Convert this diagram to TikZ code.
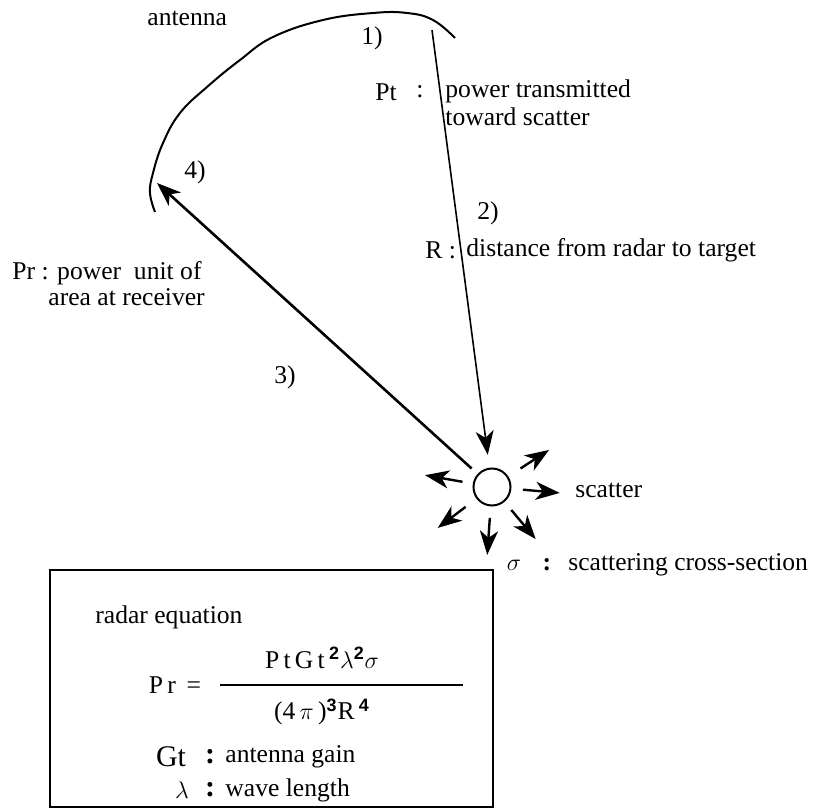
\documentclass[tikz,border=0pt]{standalone}
\usepackage{amsmath}
\usepackage{fontspec}
\setmainfont{Liberation Serif}
\setsansfont{Liberation Sans}
\usetikzlibrary{arrows.meta,positioning}

\begin{document}
\begin{tikzpicture}[x=0.5pt,y=-0.5pt,
  every node/.style={inner sep=0pt,font=\fontsize{12.8}{14}\selectfont},
  txt/.style={anchor=west},
  beam/.style={-{Stealth[length=12pt,width=9pt,inset=3.5pt]},line width=1.2pt}]
  \useasboundingbox (0,0) rectangle (815,808);

  % antenna dish
  \draw[line width=1pt] plot[smooth,tension=0.7] coordinates {(155,212) (150,193) (153,173)
    (163,143) (180,113) (207,87) (240,60) (273,37) (323,20) (373,13) (407,13) (433,20) (455,38)};
  \node[txt] (ant) at (147,18) {antenna};
  \coordinate (feed) at (432,30);
  \coordinate (rx) at (157,183);

  % scatter
  \node[circle,draw,line width=1pt,minimum size=18.5pt] (scat) at (492,487) {};
  \draw[beam,line width=0.8pt,shorten >=6.5pt] (feed) -- (scat);
  \draw[beam,line width=1.3pt,shorten <=4pt] (scat) -- (rx);
  \foreach \a/\r in {-33/34,5/31,50/30,94/31,143/33,190/30}
    \draw[beam] ([shift={(\a:\r)}]scat.center) -- ([shift={(\a:68)}]scat.center);
  \node[txt] (scatl) at (575,490) {scatter};

  % step labels
  \node (s1) at (372,38) {1)};
  \node (s2) at (488,213) {2)};
  \node (s3) at (285,377) {3)};
  \node (s4) at (195,172) {4)};

  % quantities
  \node (pt) at (386,92) {Pt};
  \node (ptc) at (420,92) {:};
  \node[txt,align=left] (ptd) at (445,103) {power transmitted\\toward scatter};
  \node[txt] (r) at (425,250) {R :};
  \node[txt] (rd) at (466,250) {distance from radar to target};
  \node[txt] (pr) at (12,273) {Pr : power\ \ unit of};
  \node[txt] (prd) at (48,297) {area at receiver};
  \node (sig) at (514,565) {$\sigma$};
  \node (sigc) at (547,565) {\textbf{:}};
  \node[txt] (sigd) at (568,565) {scattering cross-section};

  % radar equation box
  \draw[line width=1pt] (50,570) rectangle (493,807);
  \node[txt] (req) at (95,617) {radar equation};
  \node (num) at (322,658) {P\,t\,G\,t\,$^{\textsf{\textbf{2}}}\lambda^{\textsf{\textbf{2}}}\sigma$};
  \draw[line width=0.8pt] (220,685) -- (463,685);
  \node (den) at (322,712) {(4\,$\pi$\,)$^{\textsf{\textbf{3}}}$R\,$^{\textsf{\textbf{4}}}$};
  \node (pre) at (175,685) {P\,r\,\ =};
  \node (gt) at (171,757) {\fontsize{15}{16}\selectfont Gt};
  \node (gtc) at (210,757) {\fontsize{15}{16}\selectfont\textbf{:}};
  \node[txt] (gtd) at (225,757) {antenna gain};
  \node (lam) at (182,790) {$\lambda$};
  \node (lamc) at (210,790) {\fontsize{15}{16}\selectfont\textbf{:}};
  \node[txt] (lamd) at (225,790) {wave length};
\end{tikzpicture}
\end{document}
